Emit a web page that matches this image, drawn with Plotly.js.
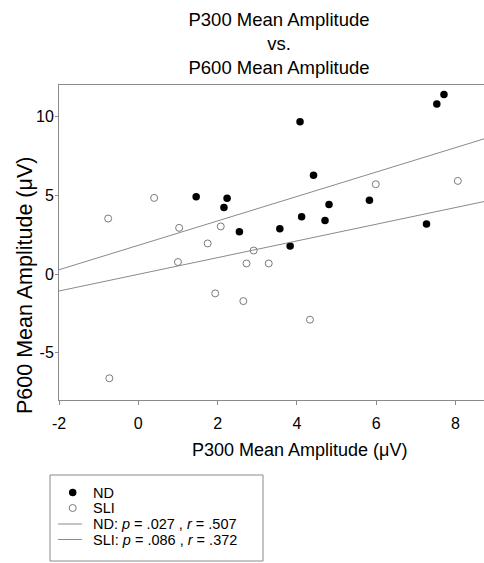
<!DOCTYPE html>
<html>
<head>
<meta charset="utf-8">
<script src="https://cdn.plot.ly/plotly-3.0.1.min.js"></script>
<style>html,body{margin:0;padding:0;background:#fff}#chart{width:484px;height:563px}</style>
</head>
<body>
<div id="chart"></div>
<script>
// ND group (filled circles)
const ndX = [1.46, 2.24, 2.16, 2.55, 4.08, 4.42, 4.81, 4.12, 4.71, 3.57, 3.83, 5.83, 7.27, 7.53, 7.71];
const ndY = [4.90, 4.81, 4.22, 2.68, 9.67, 6.27, 4.41, 3.63, 3.40, 2.87, 1.77, 4.69, 3.17, 10.80, 11.39];
// SLI group (hollow circles)
const sliX = [-0.76, 0.40, 1.03, 1.00, 1.75, 2.08, 1.94, 2.65, 2.73, -0.73, 2.91, 3.29, 4.33, 5.99, 8.06];
const sliY = [3.52, 4.83, 2.93, 0.76, 1.94, 3.02, -1.23, -1.72, 0.67, -6.62, 1.49, 0.67, -2.90, 5.70, 5.91];
// Fit lines (end points)
const fitX = [-2, 8.72];
const ndFitY = [0.27, 8.58];
const sliFitY = [-1.08, 4.60];
const xTicks = [-2, 0, 2, 4, 6, 8];
const yTicks = [-5, 0, 5, 10];
const legendLabels = ['ND', 'SLI',
  'ND: <i>p</i> = .027 , <i>r</i> = .507',
  'SLI: <i>p</i> = .086 , <i>r</i> = .372'];

const FONT = 'Liberation Sans, Arial, sans-serif';
const AX = '#8a8a8a';

// plot-area geometry in pixels (for placing the legend box and titles)
const L = 59, T = 85, W = 425, H = 315;
const px = v => (v - L) / W;
const py = v => (T + H - v) / H;

const traces = [
  {x: ndX, y: ndY, mode: 'markers', type: 'scatter', name: legendLabels[0],
   marker: {color: '#000', size: 7.5, line: {width: 0}}},
  {x: sliX, y: sliY, mode: 'markers', type: 'scatter', name: legendLabels[1],
   marker: {color: '#fff', size: 7, line: {color: '#7a7a7a', width: 1}}},
  {x: fitX, y: ndFitY, mode: 'lines', type: 'scatter', name: legendLabels[2],
   line: {color: '#8a8a8a', width: 1}},
  {x: fitX, y: sliFitY, mode: 'lines', type: 'scatter', name: legendLabels[3],
   line: {color: '#8a8a8a', width: 1}}
];

// legend drawn in the same styles as the traces
const rowY = [492.5, 508, 524, 539.5];
const shapes = [
  {type: 'rect', xref: 'paper', yref: 'paper', x0: px(50), x1: px(263), y0: py(561), y1: py(475),
   line: {color: AX, width: 1}, fillcolor: '#fff', layer: 'above'},
  {type: 'circle', xref: 'paper', yref: 'paper', xsizemode: 'pixel', ysizemode: 'pixel',
   xanchor: px(72.7), yanchor: py(rowY[0]), x0: -3.75, x1: 3.75, y0: -3.75, y1: 3.75,
   fillcolor: '#000', line: {width: 0}},
  {type: 'circle', xref: 'paper', yref: 'paper', xsizemode: 'pixel', ysizemode: 'pixel',
   xanchor: px(72.7), yanchor: py(rowY[1]), x0: -3.5, x1: 3.5, y0: -3.5, y1: 3.5,
   fillcolor: '#fff', line: {color: '#7a7a7a', width: 1}},
  {type: 'line', xref: 'paper', yref: 'paper', x0: px(58), x1: px(82), y0: py(rowY[2]), y1: py(rowY[2]),
   line: {color: '#8a8a8a', width: 1}},
  {type: 'line', xref: 'paper', yref: 'paper', x0: px(58), x1: px(82), y0: py(rowY[3]), y1: py(rowY[3]),
   line: {color: '#8a8a8a', width: 1}}
];

const annotations = [
  {text: 'P300 Mean Amplitude (μV)', xref: 'paper', yref: 'paper',
   x: px(299), y: py(450), xanchor: 'center', yanchor: 'middle',
   showarrow: false, font: {size: 18, family: FONT, color: '#000'}},
  {text: 'P600 Mean Amplitude (μV)', xref: 'paper', yref: 'paper',
   x: px(25), y: py(286), xanchor: 'center', yanchor: 'middle',
   textangle: -90, showarrow: false, font: {size: 21.5, family: FONT, color: '#000'}}
].concat(legendLabels.map((t, i) => ({
   text: t, xref: 'paper', yref: 'paper', x: px(91), y: py(rowY[i]),
   xanchor: 'left', yanchor: 'middle', showarrow: false,
   font: {size: 14.5, family: FONT, color: '#000'}})));

const layout = {
  width: 484, height: 563,
  margin: {l: L, r: 0, t: T, b: 563 - T - H, autoexpand: false},
  paper_bgcolor: '#fff', plot_bgcolor: '#fff',
  font: {family: FONT, color: '#000', size: 16},
  title: {text: 'P300 Mean Amplitude<br>vs.<br>P600 Mean Amplitude',
          font: {family: FONT, size: 18.5, color: '#000'},
          xref: 'container', x: 279/484, xanchor: 'center',
          yref: 'container', y: 1 - 26/563, yanchor: 'top'},
  xaxis: {range: [-2, 8.72], tickvals: xTicks, ticktext: xTicks.map(String),
          showline: true, mirror: true, linecolor: AX, linewidth: 1,
          ticks: 'outside', ticklen: 4, tickcolor: AX, showgrid: false, zeroline: false,
          ticklabelstandoff: 5, tickfont: {size: 16, family: FONT}},
  yaxis: {range: [-8, 12], tickvals: yTicks, ticktext: yTicks.map(String),
          showline: true, linecolor: AX, linewidth: 1,
          ticks: 'outside', ticklen: 3, tickcolor: AX, showgrid: false, zeroline: false,
          ticklabelstandoff: -2, tickfont: {size: 16, family: FONT}},
  showlegend: false,
  shapes: shapes,
  annotations: annotations
};

Plotly.newPlot('chart', traces, layout, {displayModeBar: false, staticPlot: true});
</script>
</body>
</html>
